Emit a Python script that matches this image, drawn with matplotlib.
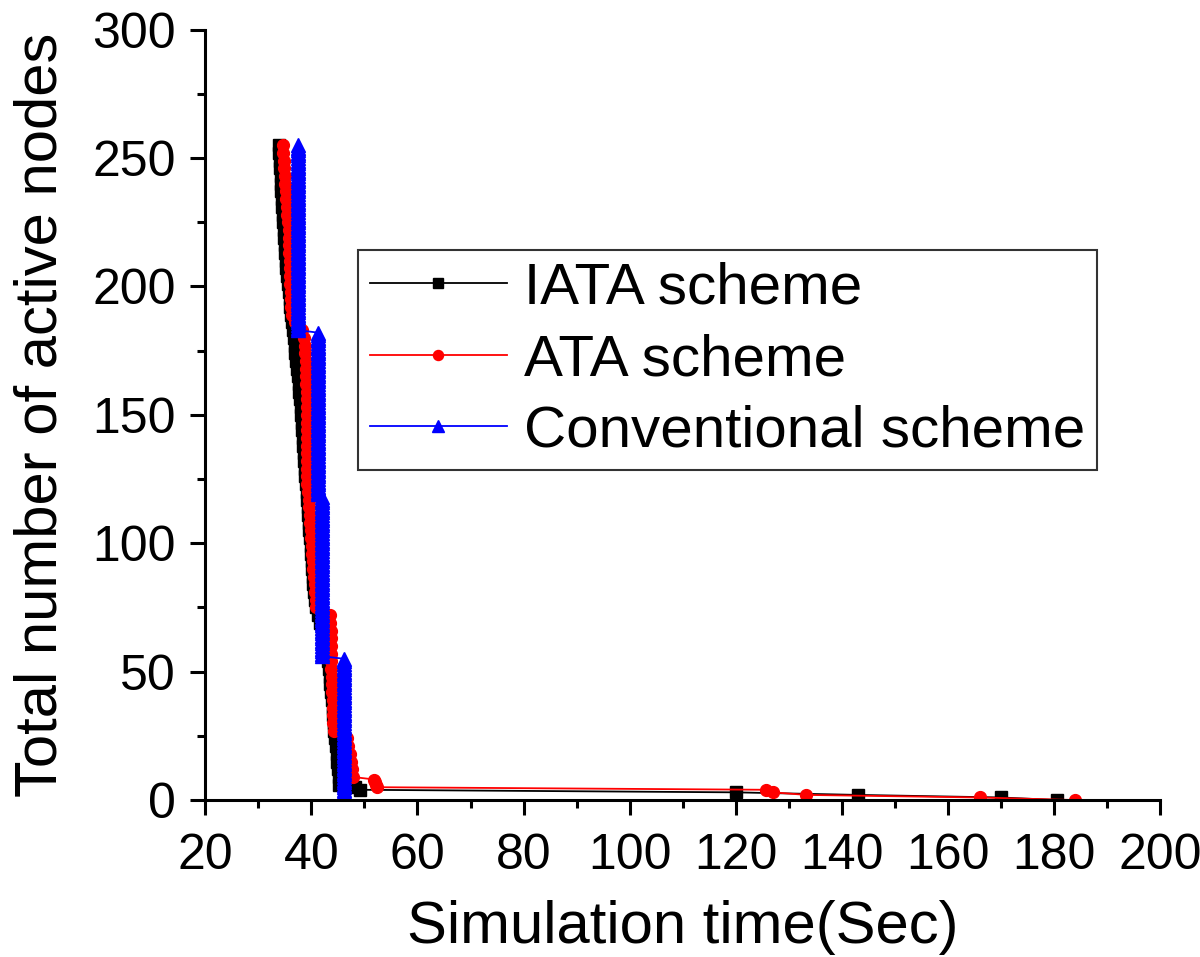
import matplotlib
matplotlib.use("Agg")
import numpy as np
import matplotlib.pyplot as plt
from matplotlib.ticker import MultipleLocator

plt.rcParams['font.family'] = ['Liberation Sans', 'DejaVu Sans']

# IATA scheme: remaining active nodes vs. time of each death (sampled)
iata_count = [255, 252, 249, 246, 243, 240, 237, 234, 231, 228, 225, 222, 219, 216, 213,
              210, 207, 204, 201, 198, 195, 192, 189, 186, 183, 180, 177, 174, 171, 168,
              165, 162, 159, 156, 153, 150, 147, 144, 141, 138, 135, 132, 129, 126, 123,
              120, 117, 114, 111, 108, 105, 102, 99, 96, 93, 90, 87, 84, 81, 78,
              75, 72, 69, 66, 63, 60, 57, 54, 51, 48, 45, 42, 39, 36, 33,
              30, 27, 24, 21, 18, 15, 12, 9, 6, 5, 4, 3, 2, 1, 0]
iata_time = [34.0, 34.0, 34.1, 34.1, 34.2, 34.3, 34.3, 34.4, 34.5, 34.6, 34.7, 34.8, 34.9, 35.0, 35.1,
             35.2, 35.3, 35.4, 35.6, 35.7, 35.9, 36.0, 36.2, 36.4, 36.6, 36.8, 36.9, 37.0, 37.2, 37.3,
             37.5, 37.6, 37.7, 37.9, 38.0, 38.1, 38.2, 38.3, 38.4, 38.5, 38.6, 38.7, 38.8, 38.9, 39.0,
             39.1, 39.2, 39.3, 39.4, 39.5, 39.6, 39.8, 39.9, 40.0, 40.1, 40.2, 40.3, 40.4, 40.5, 40.7,
             40.9, 41.2, 41.6, 42.0, 42.4, 42.7, 43.0, 43.2, 43.3, 43.5, 43.6, 43.8, 43.9, 44.0, 44.1,
             44.2, 44.3, 44.5, 44.6, 44.8, 44.9, 45.0, 45.2, 45.3, 48.3, 49.2, 120.0, 143.0, 170.0, 180.5]

# ATA scheme
ata_count = [255, 252, 249, 246, 243, 240, 237, 234, 231, 228, 225, 222, 219, 216, 213,
             210, 207, 204, 201, 198, 195, 192, 189, 186, 183, 180, 177, 174, 171, 168,
             165, 162, 159, 156, 153, 150, 147, 144, 141, 138, 135, 132, 129, 126, 123,
             120, 117, 114, 111, 108, 105, 102, 99, 96, 93, 90, 87, 84, 81, 78,
             75, 72, 69, 66, 63, 60, 57, 54, 51, 48, 45, 42, 39, 36, 33,
             30, 27, 24, 21, 18, 15, 12, 9, 8, 7, 6, 5, 4, 3, 2, 1, 0]
ata_time = [34.6, 34.7, 34.8, 34.9, 35.0, 35.1, 35.2, 35.3, 35.4, 35.5, 35.6, 35.7, 35.7, 35.8, 35.8,
            35.9, 35.9, 36.0, 36.0, 36.1, 36.1, 36.2, 36.3, 37.0, 38.2, 38.6, 38.8, 38.9, 39.0, 39.0,
            39.0, 39.0, 39.1, 39.1, 39.1, 39.1, 39.1, 39.2, 39.2, 39.2, 39.2, 39.2, 39.2, 39.2, 39.2,
            39.3, 39.5, 39.6, 39.7, 39.8, 39.9, 40.0, 40.1, 40.2, 40.3, 40.4, 40.5, 40.6, 40.7, 40.8,
            40.9, 43.6, 43.6, 43.7, 43.7, 43.7, 43.8, 43.8, 43.8, 43.9, 43.9, 43.9, 44.0, 44.0, 44.1,
            44.1, 44.2, 46.8, 47.0, 47.2, 47.4, 47.6, 47.8, 51.9, 52.0, 52.2, 52.4, 125.7, 127.0, 133.3,
            166.0, 184.0]

# Conventional scheme: nodes die in groups at the same instant
conv_group_time = [37.5, 41.3, 42.1, 46.2]
conv_group_size = [73, 64, 63, 56]

conv_time = np.repeat(conv_group_time, conv_group_size)
conv_count = np.arange(255, -1, -1)

fig = plt.figure(figsize=(12, 9.57), dpi=100)
ax = fig.add_axes([0.171, 0.164, 0.796, 0.805])

ax.plot(iata_time, iata_count, color='black', lw=1.3, marker='s', ms=8.5, label='IATA scheme')
ax.plot(ata_time, ata_count, color='red', lw=1.3, marker='o', ms=8.5, label='ATA scheme')
ax.plot(conv_time, conv_count, color='blue', lw=1.3, marker='^', ms=9.5, label='Conventional scheme')

ax.set_xlim(20, 200)
ax.set_ylim(0, 300)
ax.xaxis.set_major_locator(MultipleLocator(20))
ax.xaxis.set_minor_locator(MultipleLocator(10))
ax.yaxis.set_major_locator(MultipleLocator(50))
ax.yaxis.set_minor_locator(MultipleLocator(25))

for s in ['top', 'right']:
    ax.spines[s].set_visible(False)
for s in ['left', 'bottom']:
    ax.spines[s].set_linewidth(2.2)

ax.tick_params(which='major', direction='out', length=11, width=2.2, labelsize=36)
ax.tick_params(which='minor', direction='out', length=6, width=2.2)
ax.tick_params(axis='x', which='major', pad=13)
ax.tick_params(axis='y', which='major', pad=10)

ax.set_xlabel('Simulation time(Sec)', fontsize=43, labelpad=15)
ax.set_ylabel('Total number of active nodes', fontsize=43, labelpad=17,
              family=['Liberation Sans Narrow', 'Liberation Sans'])

leg = ax.legend(loc='upper left', bbox_to_anchor=(0.16, 0.714), fontsize=42,
                frameon=True, fancybox=False, edgecolor='black', handlelength=2.35,
                handletextpad=0.3, borderpad=0.2, borderaxespad=0, labelspacing=0.3,
                markerscale=0.85)
leg.get_frame().set_linewidth(1.5)

plt.savefig('out.png', dpi=100)
